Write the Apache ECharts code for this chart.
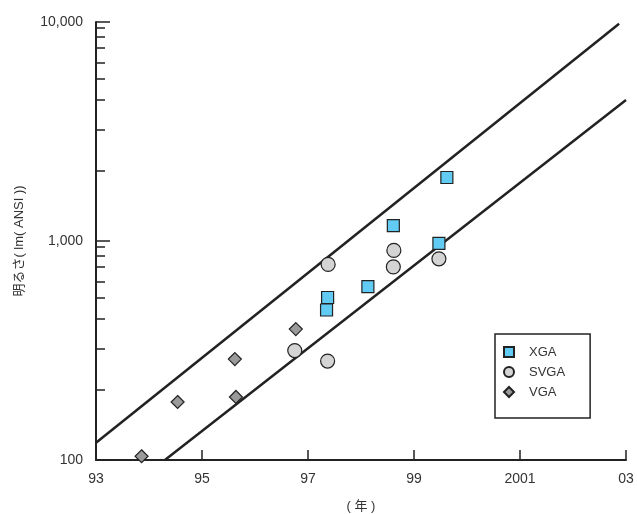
<!DOCTYPE html>
<html>
<head>
<meta charset="utf-8">
<script src="https://cdn.jsdelivr.net/npm/echarts@6/dist/echarts.min.js"></script>
<style>
html,body{margin:0;padding:0;background:#fff;}
#c{width:637px;height:514px;}
</style>
</head>
<body>
<div id="c"></div>
<script>
// ---- data ----
var seriesNames = ['XGA', 'SVGA', 'VGA'];
var xgaData = [[99.62, 1950], [98.61, 1175], [99.47, 975], [98.13, 619], [97.37, 552], [97.35, 484]];
var svgaData = [[97.38, 782], [98.62, 906], [98.61, 762], [99.47, 829], [96.75, 316], [97.37, 283]];
var vgaData = [[96.77, 396], [95.62, 289], [95.64, 194], [94.54, 184], [93.86, 104]];
var upperTrend = [[93, 120], [102.87, 9820]];
var lowerTrend = [[94.3, 100], [103, 4400]];
var xTickValues = [93, 95, 97, 99, 101, 103];
var xTickLabels = ['93', '95', '97', '99', '2001', '03'];
var yTickValues = [100, 1000, 10000];
var yTickLabels = ['100', '1,000', '10,000'];
// minor ticks of the y axis, in log10 units
var yMinorTicks = [3.972, 3.934, 3.881, 3.815, 3.743, 3.647, 3.51, 3.323,
                   2.972, 2.934, 2.881, 2.815, 2.743, 2.647, 2.51, 2.323];

var ink = '#222';
var txt = '#333';
var latin = 'Liberation Sans, Arial, sans-serif';
var cjk = 'Liberation Sans, "Noto Sans CJK JP", sans-serif';

var chart = echarts.init(document.getElementById('c'));
chart.setOption({
  animation: false,
  backgroundColor: '#fff',
  grid: { left: 96, right: 11, top: 22, bottom: 54, containLabel: false, outerBoundsMode: 'none' },
  legend: {
    data: seriesNames,
    orient: 'vertical',
    left: 495, top: 334,
    padding: [11, 25, 19, 8],
    itemWidth: 10, itemHeight: 10, itemGap: 6,
    borderColor: ink, borderWidth: 1.5,
    textStyle: { fontFamily: latin, fontSize: 13, color: txt, lineHeight: 14, padding: [0, 0, 0, 10] }
  },
  xAxis: {
    type: 'value', min: 93, max: 103,
    name: '( 年 )', nameLocation: 'middle', nameGap: 40,
    nameTextStyle: { fontFamily: cjk, fontSize: 13, color: txt },
    axisLine: { show: true, onZero: false, lineStyle: { color: ink, width: 2 } },
    axisTick: { show: true, inside: true, length: 10, customValues: xTickValues.slice(1),
                lineStyle: { color: ink, width: 1.5 } },
    axisLabel: { customValues: xTickValues, fontFamily: latin, fontSize: 14, color: txt, margin: 12,
                 formatter: function (v) { var i = xTickValues.indexOf(Math.round(v)); return i >= 0 ? xTickLabels[i] : ''; } },
    splitLine: { show: false }
  },
  yAxis: [{
    type: 'log', logBase: 10, min: 100, max: 10000,
    name: '明るさ( lm( ANSI ))', nameLocation: 'middle', nameGap: 70,
    nameTextStyle: { fontFamily: cjk, fontSize: 13, color: txt },
    axisLine: { show: true, onZero: false, lineStyle: { color: ink, width: 2 } },
    axisTick: { show: true, inside: true, length: 14, customValues: yTickValues,
                lineStyle: { color: ink, width: 1.5 } },
    axisLabel: { customValues: yTickValues, fontFamily: latin, fontSize: 14, color: txt, margin: 13,
                 formatter: function (v) { var i = yTickValues.indexOf(Math.round(v)); return i >= 0 ? yTickLabels[i] : ''; } },
    splitLine: { show: false }
  }, {
    type: 'value', min: 2, max: 4, position: 'left',
    axisLine: { show: false },
    axisTick: { show: true, inside: true, length: 9, customValues: yMinorTicks,
                lineStyle: { color: ink, width: 1.5 } },
    axisLabel: { show: false },
    splitLine: { show: false }
  }],
  series: [
    { type: 'line', data: upperTrend, symbol: 'none', silent: true, z: 1,
      lineStyle: { color: ink, width: 2.5 } },
    { type: 'line', data: lowerTrend, symbol: 'none', silent: true, z: 1,
      lineStyle: { color: ink, width: 2.5 } },
    { name: 'XGA', type: 'scatter', data: xgaData, symbol: 'rect', symbolSize: 12, z: 3,
      itemStyle: { color: '#62CBF3', borderColor: ink, borderWidth: 1.2, opacity: 1 } },
    { name: 'SVGA', type: 'scatter', data: svgaData, symbol: 'circle', symbolSize: 14, z: 3,
      itemStyle: { color: '#D4D4D4', borderColor: ink, borderWidth: 1.2, opacity: 1 } },
    { name: 'VGA', type: 'scatter', data: vgaData, symbol: 'diamond', symbolSize: 13, z: 3,
      itemStyle: { color: '#9A9A9A', borderColor: ink, borderWidth: 1.2, opacity: 1 } }
  ]
});
</script>
</body>
</html>
